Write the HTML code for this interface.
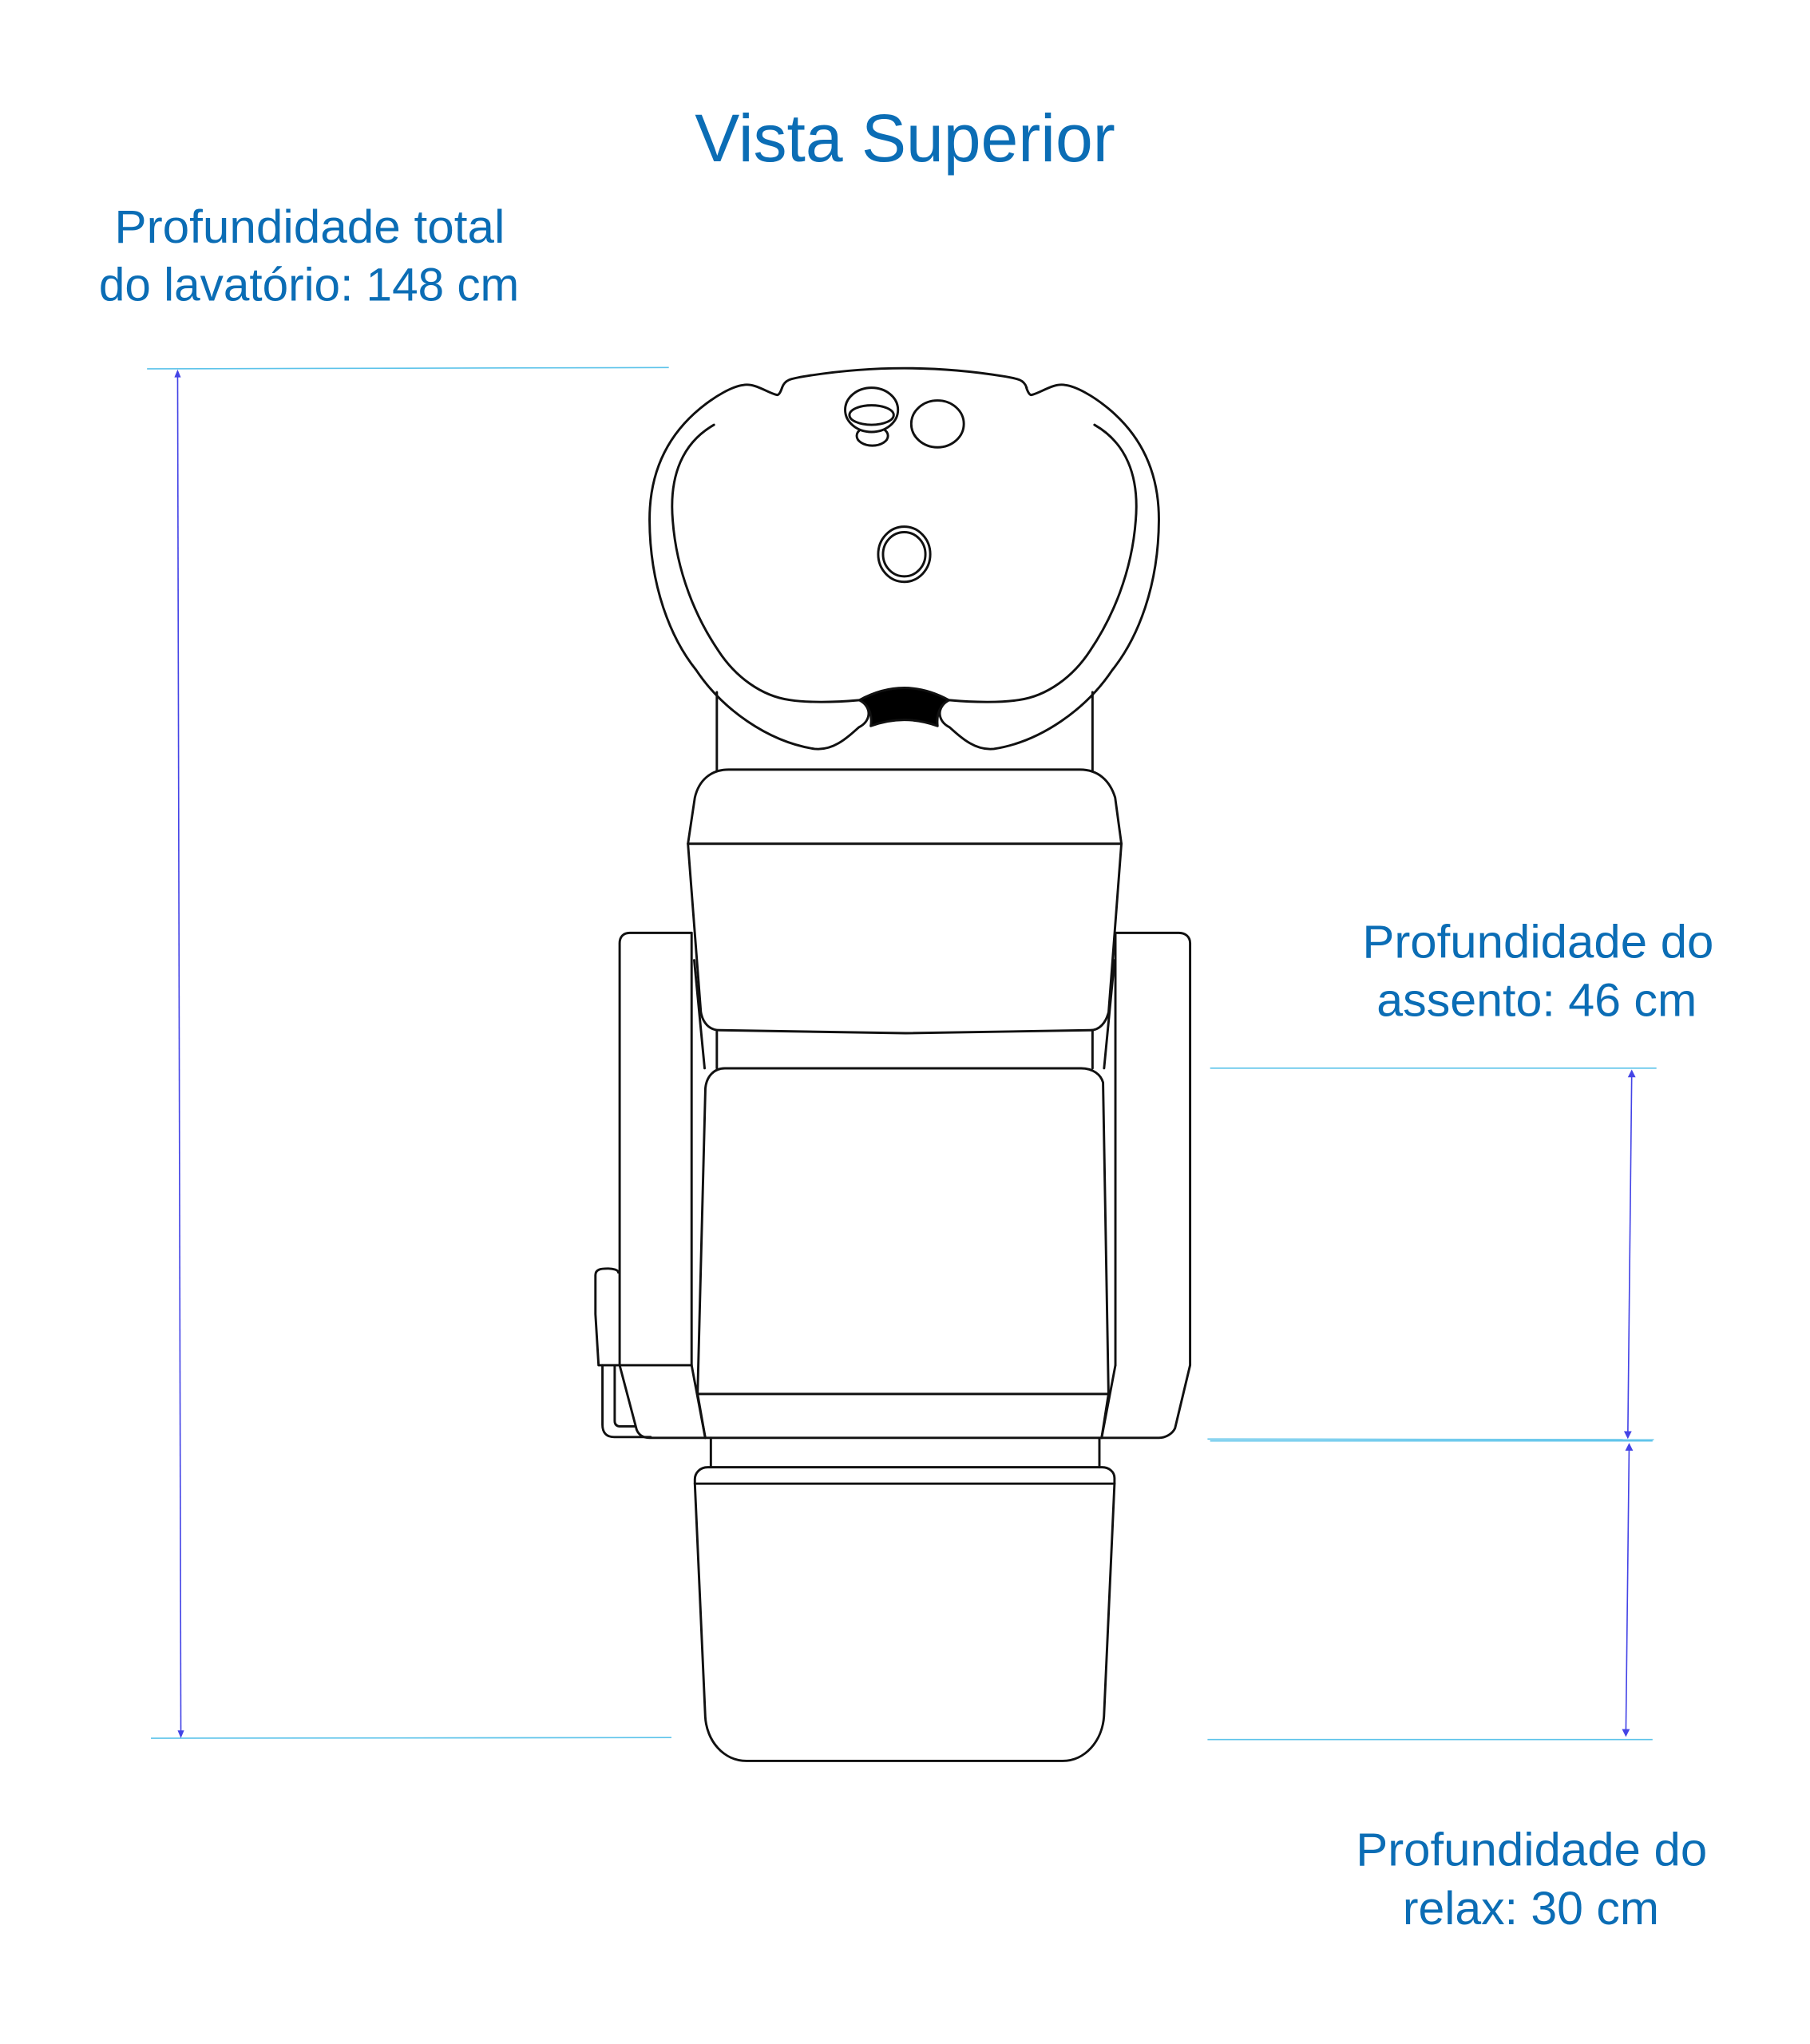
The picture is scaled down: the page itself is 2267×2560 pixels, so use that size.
<!DOCTYPE html>
<html><head><meta charset="utf-8"><style>
html,body{margin:0;padding:0;background:#fff;}
svg{display:block;}
text{font-family:"Liberation Sans",sans-serif;fill:#0b6db5;}
</style></head><body>
<svg width="2267" height="2560" viewBox="0 0 1391 1571" preserveAspectRatio="none" xmlns="http://www.w3.org/2000/svg">
<rect width="1391" height="1571" fill="#fff"/>
<text x="534" y="124" font-size="52" textLength="323" lengthAdjust="spacingAndGlyphs">Vista Superior</text>
<text x="88" y="186.5" font-size="36" textLength="300" lengthAdjust="spacingAndGlyphs">Profundidade total</text>
<text x="76" y="231" font-size="36" textLength="323" lengthAdjust="spacingAndGlyphs">do lavatório: 148 cm</text>
<text x="1047" y="736" font-size="36" textLength="270" lengthAdjust="spacingAndGlyphs">Profundidade do</text>
<text x="1058" y="781" font-size="36" textLength="246" lengthAdjust="spacingAndGlyphs">assento: 46 cm</text>
<text x="1042" y="1434" font-size="36" textLength="270" lengthAdjust="spacingAndGlyphs">Profundidade do</text>
<text x="1078" y="1479" font-size="36" textLength="197" lengthAdjust="spacingAndGlyphs">relax: 30 cm</text>

<g stroke="#5cc3ea" stroke-width="1" fill="none">
<line x1="113" y1="283.5" x2="514" y2="282.5"/>
<line x1="116" y1="1336" x2="516" y2="1335.5"/>
<line x1="930" y1="821" x2="1273" y2="821"/>
<line x1="928" y1="1106" x2="1271" y2="1106.5"/>
<line x1="930" y1="1107.5" x2="1270" y2="1107.5"/>
<line x1="928" y1="1337" x2="1270" y2="1337"/>
</g>
<g stroke="#4444e6" stroke-width="1" fill="#4444e6">
<line x1="136.5" y1="287" x2="139" y2="1332"/>
<path d="M136.5,284 l-2.5,6 h5 z M139,1336 l-2.5,-6 h5 z" stroke="none"/>
<line x1="1254" y1="825" x2="1251" y2="1103"/>
<path d="M1254,822 l-3,6 h6 z M1251,1106 l-3,-6 h6 z" stroke="none"/>
<line x1="1252" y1="1112" x2="1249.5" y2="1332"/>
<path d="M1252,1109 l-3,6 h6 z M1249.5,1335 l-3,-6 h6 z" stroke="none"/>
</g>

<g stroke="#111" stroke-width="1.8" fill="none" stroke-linejoin="round" stroke-linecap="round">
<line x1="550.9" y1="532" x2="550.9" y2="592"/>
<line x1="839.6" y1="532" x2="839.6" y2="592"/>
<path d="M601,298 C603,292 607,291 620,289 Q694.9,277 770,289 C783,291 787,292 789,298"/>
<g id="half">
<path d="M601,298 Q599,304 597,303.5 C590,302 580,294 571,296 C563,297 550,304 538,314 C515,333 499,360 499.2,400 C499.5,450 515,490 535,515 C555,545 590,570 626,575.6 C640,577 650,568 660,559 C670,554 670,543 660.4,538.1 C640,540 620,540 607,538 C585,535 565,520 552,500 C535,475 520,440 517,400 C514,365 525,340 548.7,326.5"/>
</g>
<use href="#half" transform="translate(1389.8,0) scale(-1,1)"/>
<path d="M660.4,538.1 Q694.9,519.3 729.3,538.1 C720,543 720,553 720.5,558 Q694.9,548.6 669.2,558 C670,553 670,543 660.4,538.1 Z" fill="#000"/>
<ellipse cx="670.4" cy="335" rx="12" ry="7.5" fill="#fff"/>
<ellipse cx="669.8" cy="315" rx="20.3" ry="17" fill="#fff"/>
<ellipse cx="669.8" cy="319" rx="17" ry="7.5"/>
<ellipse cx="720.5" cy="325.8" rx="20.2" ry="18"/>
<ellipse cx="694.9" cy="426" rx="20" ry="21.2"/>
<ellipse cx="694.9" cy="426" rx="16.3" ry="17"/>

<path d="M528.7,648.5 L534,613 C537,600 546,591.5 560,591.5 L830,591.5 C844,591.5 853,600 857,613 L861.8,648.5 Z"/>
<path d="M528.7,648.5 L538.6,777.7 C540,786 545,791.8 553,791.8 Q630,793 695.9,794.1 Q760,793 837.9,791.8 C845,791.8 850,786 852,777.7 L861.8,648.5"/>
<line x1="550.9" y1="792" x2="550.9" y2="821"/>
<line x1="839.6" y1="792" x2="839.6" y2="821"/>
<line x1="533.5" y1="738" x2="541.5" y2="821"/>
<line x1="856.5" y1="738" x2="848.5" y2="821"/>
<path d="M531.5,717 L484,717 C479,717 476.2,720 476.2,725 L476.2,1049.3 L489.3,1099 C491,1103 494,1105.1 499,1105.1 L890.7,1105.1 C896,1105.1 901,1102 903,1097.8 L914.6,1049.3 L914.6,725 C914.6,720 911,717 906,717 L857.2,717"/>
<line x1="531.5" y1="717" x2="531.5" y2="1049.3"/>
<line x1="857.2" y1="717" x2="857.2" y2="1049.3"/>
<line x1="476.2" y1="1049.3" x2="531.5" y2="1049.3"/>
<line x1="531.5" y1="1049.3" x2="542" y2="1105.1"/>
<line x1="857.2" y1="1049.3" x2="846.6" y2="1105.1"/>
<path d="M475.5,1049.3 L460,1049.3 L457.6,1010 L457.6,980 C457.6,975.5 462,975 467,975 C471,975 475.2,976 475.2,978"/>
<path d="M463,1049.3 L463,1095 C463,1101 466,1104.5 472,1104.5 L500,1104.5"/>
<path d="M472.4,1050 L472.4,1092 C472.4,1095 474,1096.3 477,1096.3 L488,1096.3"/>
<path d="M536.1,1071.4 L542.1,836.4 C543,827 549,821.1 557,821.1 L830.8,821.1 C840,821.1 846,826 847.7,832 L851.9,1071.4 Z"/>
<line x1="536.1" y1="1071.4" x2="542" y2="1105.1"/>
<line x1="851.9" y1="1071.4" x2="846.6" y2="1105.1"/>
<line x1="546.3" y1="1105.1" x2="546.3" y2="1127.7"/>
<line x1="844.9" y1="1105.1" x2="844.9" y2="1127.7"/>
<path d="M534,1140.3 L542,1319.4 C543,1338 556,1353.4 573.7,1353.4 L816.7,1353.4 C834,1353.4 847,1338 848.4,1319.4 L856.5,1140.3 L856.5,1136 C856.5,1131 852,1127.7 847,1127.7 L544,1127.7 C538,1127.7 534,1132 534,1137 Z"/>
<line x1="534" y1="1140.3" x2="856.5" y2="1140.3"/>
</g>
</svg>
</body></html>
